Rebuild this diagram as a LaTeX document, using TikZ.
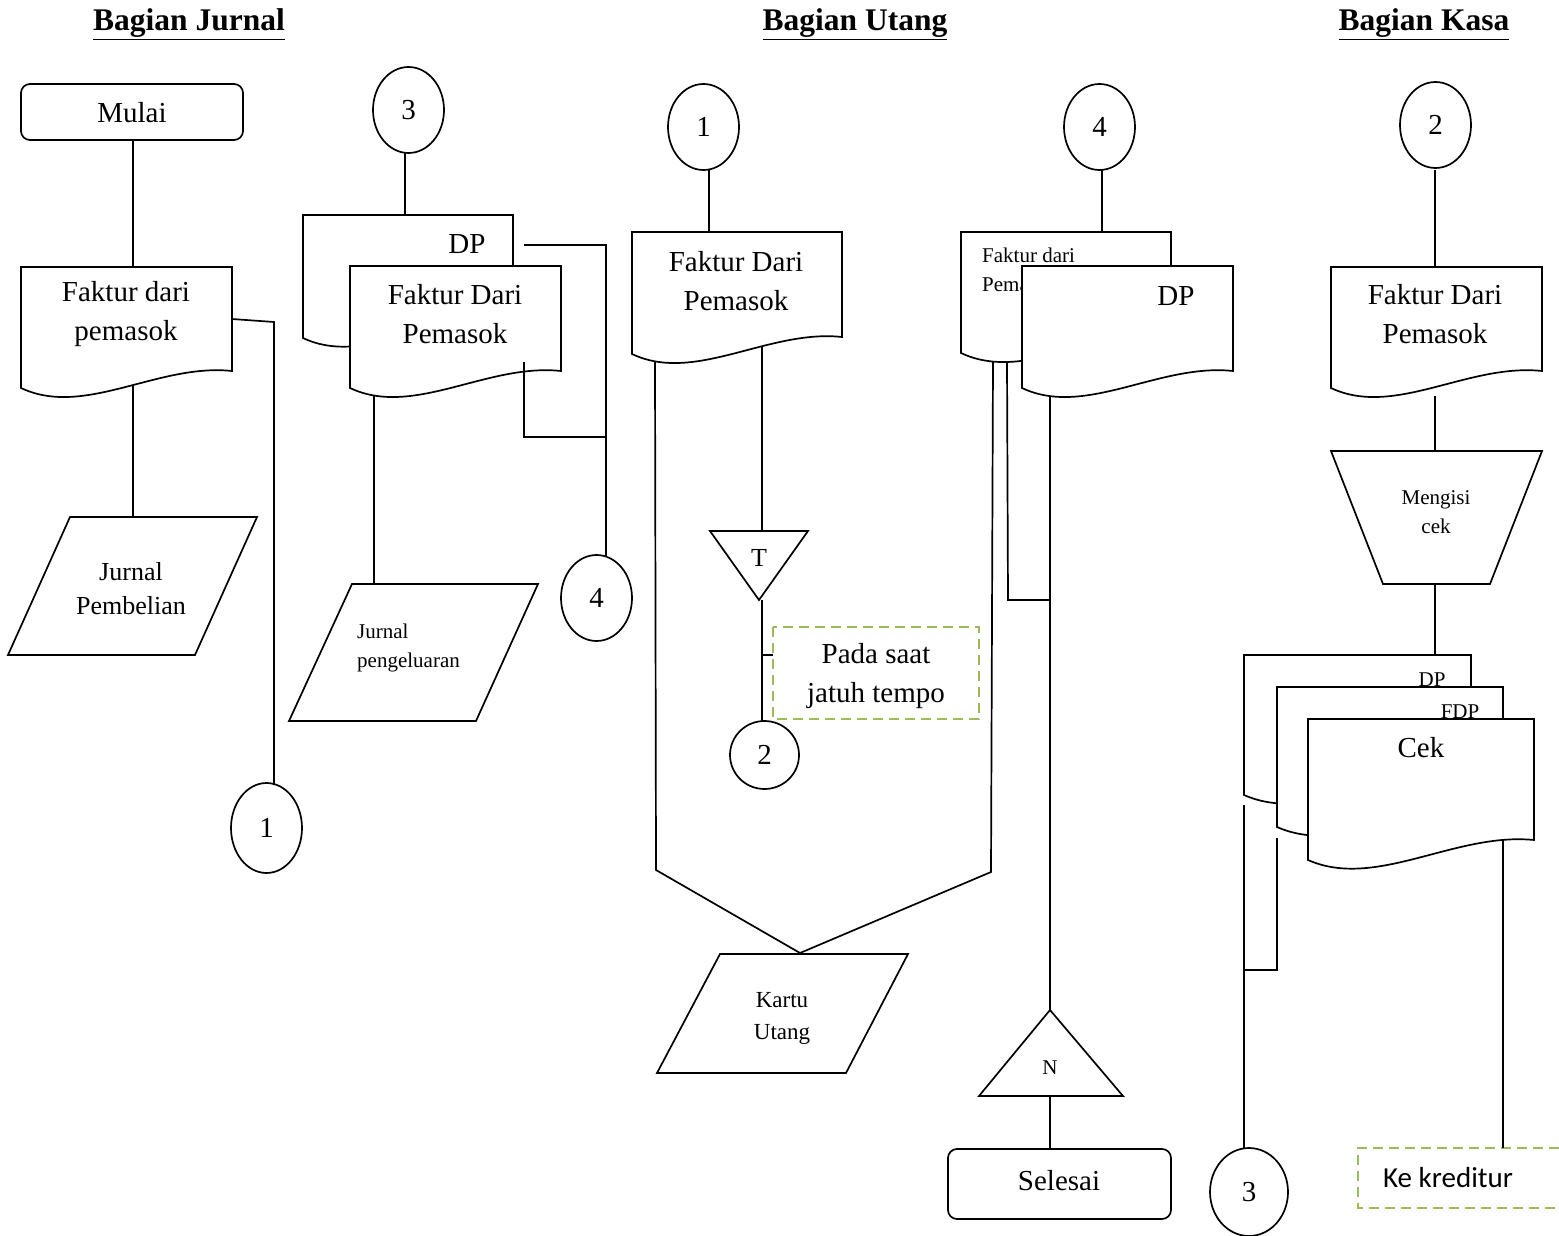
\documentclass[tikz,border=0pt]{standalone}
\usepackage{fontspec}
\setmainfont{Liberation Serif}
\newfontfamily\calib{Carlito}
\usetikzlibrary{shapes.geometric}
\newcommand\fz[2]{\fontsize{#1pt}{#2pt}\selectfont}
\tikzset{
  ln/.style={line width=1.7pt},
  circ/.style={ellipse, draw, line width=1.7pt, inner sep=0pt, minimum width=71pt, minimum height=86pt, font=\fz{29}{35}},
  term/.style={draw, line width=1.7pt, rounded corners=9pt},
  txt/.style={align=center, inner sep=0pt, font=\fz{29}{39}},
  stxt/.style={align=left, inner sep=0pt, font=\fz{21}{29}},
  ttl/.style={inner sep=0pt, font=\bfseries\fz{31.5}{38}},
  note/.style={draw=notegreen, line width=2.5pt, dash pattern=on 10pt off 6pt},
}
\definecolor{notegreen}{HTML}{9BBB59}
% document shape: L T R Bl Br
\newcommand\docshape[5]{%
  \pgfmathsetmacro\dW{#3-#1}%
  \draw[ln, fill=white] (#1,#2) -- (#3,#2) -- (#3,#5)
    .. controls ({#1+0.65*\dW},{#5-8}) and ({#1+0.3*\dW},{#4+30}) .. (#1,#4) -- cycle;}
\begin{document}
\begin{tikzpicture}[x=1pt,y=-1pt]
\useasboundingbox (0,0) rectangle (1559,1236);

% ---------- titles ----------
\node[ttl] (t1) at (189,24) {\underline{Bagian Jurnal}};
\node[ttl] (t2) at (855,24) {\underline{Bagian Utang}};
\node[ttl] (t3) at (1424,24) {\underline{Bagian Kasa}};

% ---------- Bagian Jurnal ----------
\draw[term] (21,84) rectangle (243,140);
\node[txt] (mulai) at (132,113) {Mulai};
\coordinate (mulaiS) at (133,140);
\docshape{21}{267}{232}{388}{371}
\node[txt] (fdp1) at (126,314) {Faktur dari\\pemasok};
\coordinate (fdp1T) at (133,267);
\coordinate (fdp1B) at (133,386);
\coordinate (fdp1R) at (232,319);
\draw[ln] (70,517) -- (257,517) -- (195,655) -- (8,655) -- cycle;
\node[align=center, inner sep=0pt, font=\fz{26}{34}] (jp) at (131,589) {Jurnal\\Pembelian};
\coordinate (jpT) at (133,517);
\node[circ, minimum height=90pt] (c1a) at (266.5,828) {1};
\coordinate (c1aT) at (274,785);

\draw[ln] (mulaiS) -- (fdp1T);
\draw[ln] (fdp1B) -- (jpT);
\draw[ln] (fdp1R) -- (274,322) -- (c1aT);

% column 2
\node[circ] (c3a) at (408.5,110) {3};
\coordinate (c3aS) at (405,153);
\docshape{303}{215}{513}{338}{318}
\node[txt] (dp2) at (467,244) {DP};
\coordinate (dp2T) at (405,215);
\coordinate (dp2R) at (524,245);
\docshape{350}{266}{561}{388}{371}
\node[txt] (fdp2) at (455,314) {Faktur Dari\\Pemasok};
\coordinate (fdp2B) at (374,396);
\coordinate (fdp2R) at (524,362);
\draw[ln] (352,584) -- (538,584) -- (476,721) -- (289,721) -- cycle;
\node[stxt, anchor=west] (jpg) at (357,648) {Jurnal\\pengeluaran};
\coordinate (jpgT) at (374,584);
\node[circ] (c4a) at (596.5,598) {4};
\coordinate (c4aT) at (606,556);
\coordinate (j2) at (606,437);

\draw[ln] (c3aS) -- (dp2T);
\draw[ln] (dp2R) -- (606,245) -- (c4aT);
\draw[ln] (fdp2R) -- (524,437) -- (j2);
\draw[ln] (fdp2B) -- (jpgT);

% ---------- Bagian Utang ----------
\node[circ] (c1b) at (703.5,127) {1};
\coordinate (c1bS) at (709,170);
\docshape{632}{232}{842}{354}{337}
\node[txt] (fdp3) at (736,281) {Faktur Dari\\Pemasok};
\coordinate (fdp3T) at (709,232);
\coordinate (fdp3B) at (762,346);
\coordinate (fdp3L) at (655,362);
\draw[ln] (710,531) -- (808,531) -- (759,600) -- cycle;
\node[inner sep=0pt, font=\fz{26}{30}] (tT) at (759,558) {T};
\coordinate (tTT) at (762,531);
\coordinate (tTB) at (762,600);
\draw[note] (773,627) rectangle (979,719);
\node[txt] (jt) at (876,676) {Pada saat\\jatuh tempo};
\coordinate (jtW) at (773,655);
\node[circ, minimum width=69pt, minimum height=68pt] (c2b) at (764.5,755) {2};
\coordinate (c2bT) at (762,721);
\draw[ln] (720,954) -- (908,954) -- (846,1073) -- (657,1073) -- cycle;
\node[align=center, inner sep=0pt, font=\fz{23}{32}] (ku) at (782,1018) {Kartu\\Utang};
\coordinate (kuT) at (800,953);

\draw[ln] (c1bS) -- (fdp3T);
\draw[ln] (fdp3B) -- (tTT);
\draw[ln] (tTB) -- (c2bT);
\draw[ln] (762,655) -- (jtW);
\draw[ln] (fdp3L) -- (656,870) -- (kuT) -- (991,872) -- (993,362);

% column 4
\node[circ] (c4b) at (1099.5,127) {4};
\coordinate (c4bS) at (1102,170);
\docshape{961}{232}{1171}{353}{336}
\node[stxt, anchor=west] (fdp4) at (982,270) {Faktur dari\\Pemasok};
\coordinate (fdp4T) at (1102,232);
\coordinate (fdp4B) at (1007,362);
\docshape{1022}{266}{1233}{388}{371}
\node[txt] (dp4) at (1176,296) {DP};
\coordinate (dp4B) at (1050,396);
\draw[ln] (1050,1010) -- (1123,1096) -- (979,1096) -- cycle;
\node[inner sep=0pt, font=\fz{21}{25}] (nN) at (1050,1068) {N};
\coordinate (nNT) at (1050,1010);
\coordinate (nNB) at (1050,1096);
\draw[term] (948,1149) rectangle (1171,1219);
\node[txt] (sls) at (1059,1181) {Selesai};
\coordinate (slsN) at (1050,1149);

\draw[ln] (c4bS) -- (fdp4T);
\draw[ln] (fdp4B) -- (1008,600) -- (1050,600);
\draw[ln] (dp4B) -- (nNT);
\draw[ln] (nNB) -- (slsN);

% ---------- Bagian Kasa ----------
\node[circ] (c2c) at (1435.5,125) {2};
\coordinate (c2cS) at (1435,170);
\docshape{1331}{267}{1542}{388}{371}
\node[txt] (fdp5) at (1435,314) {Faktur Dari\\Pemasok};
\coordinate (fdp5T) at (1435,267);
\coordinate (fdp5B) at (1435,396);
\draw[ln] (1331,451) -- (1542,451) -- (1490,584) -- (1383,584) -- cycle;
\node[align=center, inner sep=0pt, font=\fz{21}{29}] (mc) at (1436,512) {Mengisi\\cek};
\coordinate (mcT) at (1435,451);
\coordinate (mcB) at (1435,584);
\docshape{1244}{655}{1471}{795}{776}
\node[inner sep=0pt, font=\fz{21}{25}] (dp5) at (1432,680) {DP};
\coordinate (dp5T) at (1435,655);
\coordinate (dp5B) at (1244,805);
\docshape{1277}{687}{1503}{827}{808}
\node[inner sep=0pt, font=\fz{21}{25}] (fdp6) at (1460,712) {FDP};
\coordinate (fdp6B) at (1277,838);
\docshape{1308}{719}{1534}{860}{840}
\node[txt] (cek) at (1421,748) {Cek};
\coordinate (cekB) at (1503,840);
\node[circ, minimum width=78pt, minimum height=88pt] (c3c) at (1249,1192) {3};
\coordinate (c3cT) at (1244,1149);
\draw[note] (1559,1148) -- (1358,1148) -- (1358,1208) -- (1559,1208);
\node[inner sep=0pt, font=\calib\fz{29}{35}] (kk) at (1448,1178) {Ke kreditur};
\coordinate (kkT) at (1503,1148);

\draw[ln] (c2cS) -- (fdp5T);
\draw[ln] (fdp5B) -- (mcT);
\draw[ln] (mcB) -- (dp5T);
\draw[ln] (dp5B) -- (c3cT);
\draw[ln] (fdp6B) -- (1277,970) -- (1244,970);
\draw[ln] (cekB) -- (kkT);
\end{tikzpicture}
\end{document}
